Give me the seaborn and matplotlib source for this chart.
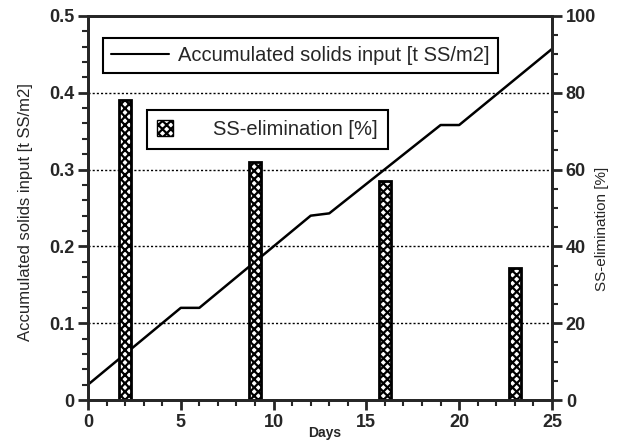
import matplotlib
matplotlib.use("Agg")
import matplotlib.pyplot as plt
import seaborn as sns
from matplotlib.ticker import MultipleLocator, FixedLocator
from matplotlib.lines import Line2D
from matplotlib.patches import Patch

# ---------------- data ----------------
days = [0, 5, 6, 12, 13, 19, 20, 25]
solids_input = [0.02, 0.12, 0.12, 0.24, 0.243, 0.358, 0.358, 0.457]   # t SS/m2

sample_days = [2, 9, 16, 23]
ss_elimination = [78, 62, 57, 34.5]   # %

x_ticks = [0, 5, 10, 15, 20, 25]
left_ticks = [0, 0.1, 0.2, 0.3, 0.4, 0.5]
left_labels = ["0", "0.1", "0.2", "0.3", "0.4", "0.5"]
right_ticks = [0, 20, 40, 60, 80, 100]

line_label = "Accumulated solids input [t SS/m2]"
bar_label = "SS-elimination [%]"

# ---------------- styling ----------------
sns.set_style("ticks")
plt.rcParams["font.family"] = ["Liberation Sans", "DejaVu Sans"]
plt.rcParams["hatch.linewidth"] = 1.6
plt.rcParams["axes.linewidth"] = 2

fig = plt.figure(figsize=(6.17, 4.43), dpi=100)
ax = fig.add_axes([0.1426, 0.097, 0.752, 0.867])

# accumulated solids line (left axis)
sns.lineplot(x=days, y=solids_input, ax=ax, color="black", linewidth=1.8)
ax.set_xlim(0, 25)
ax.set_ylim(0, 0.5)
ax.yaxis.set_major_locator(FixedLocator(left_ticks))
ax.set_yticklabels(left_labels)
ax.yaxis.set_minor_locator(MultipleLocator(0.02))
ax.grid(axis="y", which="major", linestyle=(0, (1.5, 1.5)), color="black", linewidth=1)
ax.set_ylabel(line_label, fontsize=12)
ax.yaxis.set_label_coords(-0.1185, 0.49)
ax.set_xlabel("Days", fontsize=10, fontweight="bold")
ax.xaxis.set_label_coords(0.51, -0.068)

# SS elimination bars (right axis)
ax2 = ax.twinx()
sns.barplot(x=sample_days, y=ss_elimination, ax=ax2, native_scale=True,
            width=0.65 / 7, errorbar=None, color="white", edgecolor="black",
            linewidth=2, hatch="xxxx", saturation=1)
ax2.set_xlim(0, 25)
ax2.set_ylim(0, 100)
ax2.yaxis.set_major_locator(FixedLocator(right_ticks))
ax2.yaxis.set_minor_locator(MultipleLocator(5))
ax2.set_ylabel(bar_label, fontsize=11)
ax2.yaxis.set_label_position("right")
ax2.yaxis.set_label_coords(1.0927, 0.445)

ax.xaxis.set_major_locator(FixedLocator(x_ticks))
ax.xaxis.set_minor_locator(MultipleLocator(1))

for a in (ax, ax2):
    a.tick_params(which="major", length=7, width=2, labelsize=13, pad=3)
    a.tick_params(which="minor", length=4.5, width=1.5)
    for lab in a.get_xticklabels() + a.get_yticklabels():
        lab.set_fontweight("bold")
    for s in a.spines.values():
        s.set_visible(True)
        s.set_linewidth(2)

# legends
leg1 = ax2.legend(handles=[Line2D([], [], color="black", linewidth=1.5)],
                  labels=[line_label], loc="upper left",
                  bbox_to_anchor=(0.032, 0.943), borderaxespad=0,
                  fancybox=False, edgecolor="black", framealpha=1,
                  fontsize=14.5, handlelength=2.9, handletextpad=0.45,
                  borderpad=0.4)
leg1.get_frame().set_linewidth(1.5)
ax2.add_artist(leg1)

leg2 = ax2.legend(handles=[Patch(facecolor="white", edgecolor="black", hatch="xxxx")],
                  labels=[bar_label], loc="upper left",
                  bbox_to_anchor=(0.127, 0.755), borderaxespad=0,
                  fancybox=False, edgecolor="black", framealpha=1,
                  fontsize=14.5, handlelength=0.8, handleheight=0.8,
                  handletextpad=2.0, borderpad=0.5)
leg2.get_frame().set_linewidth(1.5)

fig.savefig("out.png", dpi=100)
